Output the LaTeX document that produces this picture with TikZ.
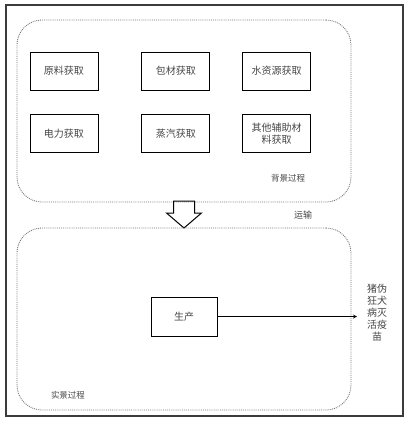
\documentclass[tikz,border=0pt]{standalone}
\usepackage{fontspec}
\newfontfamily\cjk{Noto Sans CJK SC}
\usepackage{tikz}
\usetikzlibrary{arrows,positioning}
\usepackage{xcolor}
\definecolor{framegray}{RGB}{60,60,60}
\definecolor{dotgray}{RGB}{120,120,120}
\definecolor{textgray}{RGB}{70,70,70}
\tikzstyle{arrow} = [thick,->,>=stealth,color=black]
\tikzstyle{stagebox} = [rectangle, minimum width=68pt, minimum height=38pt, align=center, draw=black, thick, text=textgray, font=\cjk\fontsize{10}{12.5}\selectfont]
\tikzstyle{groupbox} = [rectangle, rounded corners=25pt, minimum width=334pt, minimum height=182pt, draw=dotgray, densely dotted, line width=0.9pt]
\tikzstyle{tag} = [text=textgray, font=\cjk\fontsize{8.5}{10}\selectfont]

\begin{document}
\begin{tikzpicture}[x=1pt, y=-1pt]
\useasboundingbox (0,0) rectangle (412,424);

% Outer frame
\draw[framegray, line width=1.2pt] (6,5) rectangle (403,416);

% Background process
\node[groupbox] (bg) at (184,111) {};
\node[stagebox] (raw) at (64,71) {原料获取};
\node[stagebox, right=43pt of raw] (pack) {包材获取};
\node[stagebox, right=32pt of pack] (water) {水资源获取};
\node[stagebox, below=24pt of raw] (power) {电力获取};
\node[stagebox, below=24pt of pack] (steam) {蒸汽获取};
\node[stagebox, below=24pt of water] (other) {其他辅助材\\料获取};
\node[tag] (bglabel) at (288,178) {背景过程};

% Transport
\draw[black, line width=1pt] (173.5,201) -- (194.5,201) -- (194.5,213) -- (201.5,213)
    -- (184,228) -- (166.5,213) -- (173.5,213) -- cycle;
\node[tag, font=\cjk\fontsize{9}{10}\selectfont] (transport) at (303,215) {运输};

% Foreground process
\node[groupbox] (fg) at (184,319) {};
\node[stagebox, minimum width=66pt, minimum height=39pt] (produce) at (184,316.5) {生产};
\node[tag] (fglabel) at (68,395) {实景过程};

% Product
\coordinate (out) at (357,316.5);
\node[align=center, text=textgray, font=\cjk\fontsize{10}{12}\selectfont] (vaccine) at (377,313) {猪伪\\狂犬\\病灭\\活疫\\苗};

% Connections
\draw[arrow] (produce) -- (out);

\end{tikzpicture}
\end{document}
